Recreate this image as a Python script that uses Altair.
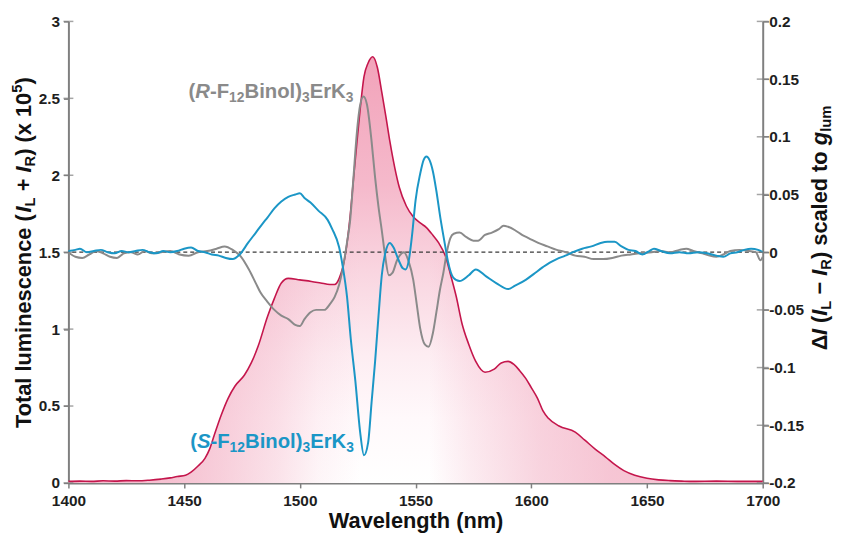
import altair as alt
import pandas as pd

FONT = "Liberation Sans"
AX = "#7f7f7f"
CRIMSON = "#c4164c"
GRAY = "#8a8a8a"
BLUE = "#1b96c6"

# ---------------- data ----------------
lum_wl = [1400, 1405, 1410, 1415, 1420, 1425, 1430, 1435, 1440, 1444, 1447, 1450.6, 1453, 1456,
          1459, 1461, 1463, 1466, 1469, 1472, 1476, 1479, 1482, 1486, 1489, 1492, 1495, 1500,
          1505, 1509, 1513, 1515, 1517, 1519.6, 1521.7, 1523.2, 1524.7, 1526.2, 1527.7, 1529.5,
          1531.5, 1533.5, 1535.4, 1537.2, 1538.9, 1541, 1543, 1546, 1549, 1552, 1554.7, 1557.5,
          1560, 1563, 1565, 1567.6, 1570, 1573, 1576, 1580, 1584, 1587, 1590, 1592.5, 1595,
          1597.6, 1600, 1602.7, 1605, 1607.4, 1612, 1619, 1623, 1627.6, 1632, 1636, 1640,
          1644.7, 1650, 1655, 1660, 1665, 1670, 1680, 1690, 1700]
lum_val = [0.010, 0.012, 0.010, 0.014, 0.012, 0.015, 0.014, 0.018, 0.025, 0.033, 0.042, 0.05,
           0.07, 0.11, 0.16, 0.22, 0.31, 0.44, 0.55, 0.63, 0.70, 0.78, 0.89, 1.08, 1.20, 1.30,
           1.33, 1.32, 1.31, 1.30, 1.29, 1.29, 1.33, 1.48, 1.73, 1.98, 2.22, 2.45, 2.64, 2.73,
           2.77, 2.70, 2.54, 2.38, 2.22, 2.05, 1.92, 1.80, 1.73, 1.69, 1.66, 1.61, 1.56, 1.47,
           1.36, 1.21, 1.04, 0.90, 0.79, 0.72, 0.74, 0.78, 0.79, 0.77, 0.73, 0.68, 0.62, 0.55,
           0.47, 0.42, 0.37, 0.33, 0.28, 0.22, 0.17, 0.12, 0.08, 0.05, 0.03, 0.02, 0.015, 0.012,
           0.01, 0.012, 0.01, 0.01]

r_wl = [1400, 1403, 1406, 1409, 1412, 1415, 1418, 1421, 1424, 1427, 1430, 1433, 1436, 1440,
        1444, 1448, 1452, 1456, 1460, 1464, 1467.5, 1471, 1474.6, 1478, 1481, 1483, 1486, 1489,
        1492, 1495, 1498, 1500, 1502, 1504.6, 1507, 1510.6, 1513, 1515, 1517, 1519, 1520.5,
        1521.7, 1523, 1524.7, 1526, 1527.5, 1529, 1531, 1532.5, 1534, 1535.4, 1536.7, 1538.5,
        1540, 1542, 1545, 1547, 1549, 1550.5, 1552, 1554, 1555.6, 1557.5, 1559, 1560.5, 1562,
        1563.5, 1565, 1566.5, 1569, 1572, 1575, 1577, 1580, 1583, 1586, 1588, 1590, 1593, 1596,
        1599, 1603, 1607, 1611, 1615, 1619, 1623, 1627, 1631, 1635, 1639, 1643, 1647, 1652,
        1656, 1660, 1664, 1667, 1670, 1674, 1677, 1680, 1683, 1686, 1690, 1694, 1697, 1699, 1700]
r_val = [0.0, -0.004, -0.005, -0.002, 0.001, -0.001, -0.004, -0.005, -0.001, 0.0, -0.002, 0.001,
         -0.001, 0.0, 0.001, -0.002, -0.003, 0.0, 0.001, 0.003, 0.005, 0.002, -0.004, -0.015,
         -0.027, -0.035, -0.043, -0.05, -0.055, -0.058, -0.063, -0.064, -0.058, -0.052, -0.05,
         -0.05, -0.045, -0.039, -0.028, -0.009, 0.01, 0.027, 0.06, 0.105, 0.127, 0.135, 0.128,
         0.096, 0.065, 0.039, 0.019, -0.001, -0.02, -0.018, -0.007, 0.0, -0.008, -0.024, -0.045,
         -0.066, -0.08, -0.082, -0.07, -0.052, -0.033, -0.018, 0.0, 0.012, 0.016, 0.017, 0.013,
         0.01, 0.01, 0.015, 0.017, 0.02, 0.023, 0.022, 0.019, 0.015, 0.012, 0.008, 0.005, 0.002,
         0.0, -0.003, -0.004, -0.006, -0.006, -0.005, -0.003, -0.002, -0.001, 0.0, 0.001, 0.0,
         0.002, 0.003, 0.001, -0.001, -0.003, -0.004, -0.002, 0.001, 0.002, 0.001, 0.0, -0.007,
         -0.004]

s_wl = [1400, 1403, 1405, 1408, 1411, 1414, 1417, 1420, 1423, 1426, 1429, 1432, 1435, 1438,
        1441, 1444, 1447, 1450, 1453, 1456, 1459, 1462, 1465, 1468, 1471, 1474, 1477.6, 1481,
        1484, 1486, 1489, 1492, 1495, 1498, 1500, 1502, 1504.6, 1508, 1512, 1514, 1517, 1518.5,
        1520.4, 1522, 1524, 1526, 1527.7, 1529.5, 1531, 1532.5, 1534, 1535.4, 1537, 1538.9,
        1540.5, 1542.7, 1544.5, 1545.7, 1547, 1548.5, 1550, 1552, 1553.5, 1554.7, 1556, 1557.5,
        1559, 1560.7, 1562.4, 1564, 1566.3, 1569, 1573, 1576, 1580.5, 1585, 1590, 1593, 1597.6,
        1601, 1605, 1608, 1611, 1614.7, 1618, 1622, 1626, 1630, 1633, 1636, 1639, 1642, 1645,
        1648, 1651, 1653, 1656, 1660, 1664, 1668, 1672, 1676, 1680, 1683, 1686, 1689, 1692,
        1695, 1698, 1700]
s_val = [0.001, 0.002, 0.003, 0.0, 0.001, 0.002, 0.0, -0.001, 0.001, 0.0, 0.001, 0.002, 0.0,
         -0.001, 0.001, 0.0, 0.001, 0.003, 0.004, 0.001, 0.0, -0.002, -0.003, -0.005, -0.006,
         -0.002, 0.008, 0.017, 0.025, 0.03, 0.038, 0.044, 0.048, 0.05, 0.051, 0.047, 0.043,
         0.036, 0.028, 0.02, 0.004, -0.012, -0.039, -0.075, -0.112, -0.155, -0.176, -0.165,
         -0.13, -0.095, -0.055, -0.02, 0.0, 0.008, 0.004, -0.007, -0.014, -0.015, -0.008, 0.015,
         0.045, 0.068, 0.08, 0.083, 0.08, 0.07, 0.053, 0.03, 0.01, -0.008, -0.022, -0.025,
         -0.02, -0.015, -0.021, -0.027, -0.032, -0.029, -0.024, -0.019, -0.013, -0.009, -0.006,
         -0.003, 0.0, 0.003, 0.005, 0.008, 0.009, 0.009, 0.005, 0.002, 0.001, -0.002, 0.001,
         0.003, 0.001, -0.001, 0.0, -0.001, 0.0, -0.001, -0.003, -0.004, -0.001, 0.0, 0.002,
         0.003, 0.002, 0.0]

x_ticks = [1400, 1450, 1500, 1550, 1600, 1650, 1700]
yl_ticks = [0, 0.5, 1, 1.5, 2, 2.5, 3]
yr_ticks = [-0.2, -0.15, -0.1, -0.05, 0, 0.05, 0.1, 0.15, 0.2]

x_title = "Wavelength (nm)"
yl_title = [("Total luminescence (", "n"), ("I", "i"), ("L", "sub"), (" + ", "n"), ("I", "i"),
            ("R", "sub"), (") (x 10", "n"), ("5", "sup"), (")", "n")]
yr_title = [("\u0394", "n"), ("I", "i"), (" (", "n"), ("I", "i"), ("L", "sub"), (" \u2212 ", "n"),
            ("I", "i"), ("R", "sub"), (") scaled to ", "n"), ("g", "i"), ("lum", "sub")]
label_r = [("(", "n"), ("R", "i"), ("-F", "n"), ("12", "sub"), ("Binol)", "n"), ("3", "sub"),
           ("ErK", "n"), ("3", "sub")]
label_s = [("(", "n"), ("S", "i"), ("-F", "n"), ("12", "sub"), ("Binol)", "n"), ("3", "sub"),
           ("ErK", "n"), ("3", "sub")]
label_r_pos = (1451.9, 0.134)
label_s_pos = (1452.6, -0.170)

# ---------------- helpers ----------------
ADV = {" ": .278, "(": .333, ")": .333, "+": .584, "-": .333, "\u2212": .584, ".": .278,
       "T": .611, "I": .278, "L": .611, "R": .722, "S": .667, "F": .611, "B": .722, "E": .667,
       "K": .722, "W": .944, "\u0394": .70, "a": .556, "b": .611, "c": .556, "d": .611,
       "e": .556, "g": .611, "h": .611, "i": .278, "l": .278, "m": .889, "n": .611, "o": .611,
       "r": .389, "s": .556, "t": .333, "u": .611, "v": .556, "x": .556}
one = pd.DataFrame({"k": [0]})

x_scale = alt.Scale(domain=[1400, 1700], nice=False, zero=False)
yl_scale = alt.Scale(domain=[0, 3], nice=False)
yr_scale = alt.Scale(domain=[-0.2, 0.2], nice=False)

lab = dict(labelFont=FONT, labelFontSize=15.5, labelFontWeight="bold", labelColor="#1e1e1e",
           domainColor=AX, domainWidth=2, tickColor=AX, tickWidth=1.5, grid=False,
           labelFlush=False, labelOverlap=False)
x_axis = alt.Axis(values=x_ticks, format="d", title=x_title, titleFont=FONT, titleFontSize=22,
                  titleFontWeight="bold", titleColor="#111111", titlePadding=1, labelPadding=6,
                  tickSize=5, **lab)
yl_axis = alt.Axis(values=yl_ticks, format="~g", title=None, orient="left", labelPadding=4,
                   tickSize=5, **lab)
yr_axis = alt.Axis(values=yr_ticks, title=None, orient="right", labelAlign="left",
                   labelPadding=0, tickSize=6,
                   labelExpr="datum.value < 0 ? '-' + format(-datum.value, '~g') : '\u2007' + format(datum.value, '~g')",
                   **lab)


def X(field="wl:Q"):
    return alt.X(field, scale=x_scale, axis=x_axis)


def adv(s, fs):
    return sum(ADV.get(c, .556) for c in s) * fs


def rich(pieces, base, color, enc, angle=None, centered=False, data=None):
    specs, cur = [], 0.0
    for txt, st in pieces:
        fs = base * 0.68 if st in ("sub", "sup") else base
        core = txt.strip(" ")
        lead = len(txt) - len(txt.lstrip(" "))
        specs.append((core, st, fs, cur + adv(" " * lead, fs)))
        cur += adv(txt, fs)
    start = -cur / 2 if centered else 0.0
    out = []
    for txt, st, fs, off in specs:
        dy = base * 0.2 if st == "sub" else (-base * 0.38 if st == "sup" else 0)
        mk = dict(text=txt, dx=start + off, dy=dy, align="left", baseline="alphabetic",
                  font=FONT, fontSize=fs, fontWeight="bold", color=color)
        if st == "i":
            mk["fontStyle"] = "italic"
        if angle is not None:
            mk["angle"] = angle
        out.append(alt.Chart(one if data is None else data).mark_text(**mk).encode(**enc))
    return out


PINK = "240,160,184"
vert_grad = alt.Gradient(
    gradient="linear", x1=0, x2=0, y1=0, y2=1,
    stops=[alt.GradientStop(offset=0, color="#f2a3ba"),
           alt.GradientStop(offset=0.3, color="#f5b9cb"),
           alt.GradientStop(offset=0.5, color="#f9d5e0"),
           alt.GradientStop(offset=0.7, color="#fdedf2"),
           alt.GradientStop(offset=0.85, color="#fff9fb"),
           alt.GradientStop(offset=1, color="#ffffff")])
h_stops = [(0, 0.7), (0.15, 0.65), (0.22, 0.5), (0.3, 0.3), (0.36, 0.1), (0.42, 0.0),
           (0.52, 0.0), (0.58, 0.2), (0.68, 0.45), (0.78, 0.6), (1, 0.7)]
horiz_grad = alt.Gradient(
    gradient="linear", x1=0, x2=1, y1=0, y2=0,
    stops=[alt.GradientStop(offset=o, color=f"rgba({PINK},{a})") for o, a in h_stops])

lum_df = pd.DataFrame({"wl": lum_wl, "v": lum_val})
r_df = pd.DataFrame({"wl": r_wl, "v": r_val})
s_df = pd.DataFrame({"wl": s_wl, "v": s_val})

YL = alt.Y("v:Q", scale=yl_scale, axis=yl_axis)
YR = alt.Y("v:Q", scale=yr_scale, axis=yr_axis)

area_v = alt.Chart(lum_df).mark_area(color=vert_grad, interpolate="monotone").encode(x=X(), y=YL)
area_h = alt.Chart(lum_df).mark_area(color=horiz_grad, interpolate="monotone").encode(x=X(), y=YL)
lum_line = alt.Chart(lum_df).mark_line(color=CRIMSON, strokeWidth=1.6, interpolate="monotone").encode(x=X(), y=YL)
left_ticks = alt.Chart(pd.DataFrame({"v": yl_ticks, "x0": [1400] * len(yl_ticks)})).mark_tick(
    orient="horizontal", size=10, thickness=1.5, color=AX).encode(x=X("x0:Q"), y=YL)
left_group = alt.layer(area_v, area_h, lum_line, left_ticks)

zero_rule = alt.Chart(pd.DataFrame({"v": [0]})).mark_rule(
    color="#3a3a3a", strokeWidth=1.3, strokeDash=[4, 3]).encode(y=YR)
gray_line = alt.Chart(r_df).mark_line(color=GRAY, strokeWidth=2, interpolate="monotone").encode(x=X(), y=YR)
blue_line = alt.Chart(s_df).mark_line(color=BLUE, strokeWidth=2, interpolate="monotone").encode(x=X(), y=YR)
right_ticks = alt.Chart(pd.DataFrame({"v": yr_ticks, "x0": [1700] * len(yr_ticks)})).mark_tick(
    orient="horizontal", size=12, thickness=1.5, color=AX).encode(x=X("x0:Q"), y=YR)

pos_r = pd.DataFrame({"wl": [label_r_pos[0]], "v": [label_r_pos[1]]})
pos_s = pd.DataFrame({"wl": [label_s_pos[0]], "v": [label_s_pos[1]]})
lab_r = rich(label_r, 20.5, GRAY, dict(x=X(), y=YR), data=pos_r)
lab_s = rich(label_s, 20.5, BLUE, dict(x=X(), y=YR), data=pos_s)
right_group = alt.layer(zero_rule, gray_line, blue_line, right_ticks, *lab_r, *lab_s)

t_left = rich(yl_title, 22, "#111111", dict(x=alt.value(-38), y=alt.value(233.5)), angle=270, centered=True)
t_right = rich(yr_title, 22, "#111111", dict(x=alt.value(766), y=alt.value(208.5)), angle=270, centered=True)

chart = alt.layer(left_group, right_group, *t_left, *t_right).resolve_scale(
    y="independent").properties(
    width=701, height=466,
    padding={"left": 61, "top": 11, "right": 74, "bottom": 49},
    autosize=alt.AutoSizeParams(type="none"),
    background="white").configure_view(stroke=None)

chart.save("out.html", embed_options={"renderer": "svg", "actions": False})
